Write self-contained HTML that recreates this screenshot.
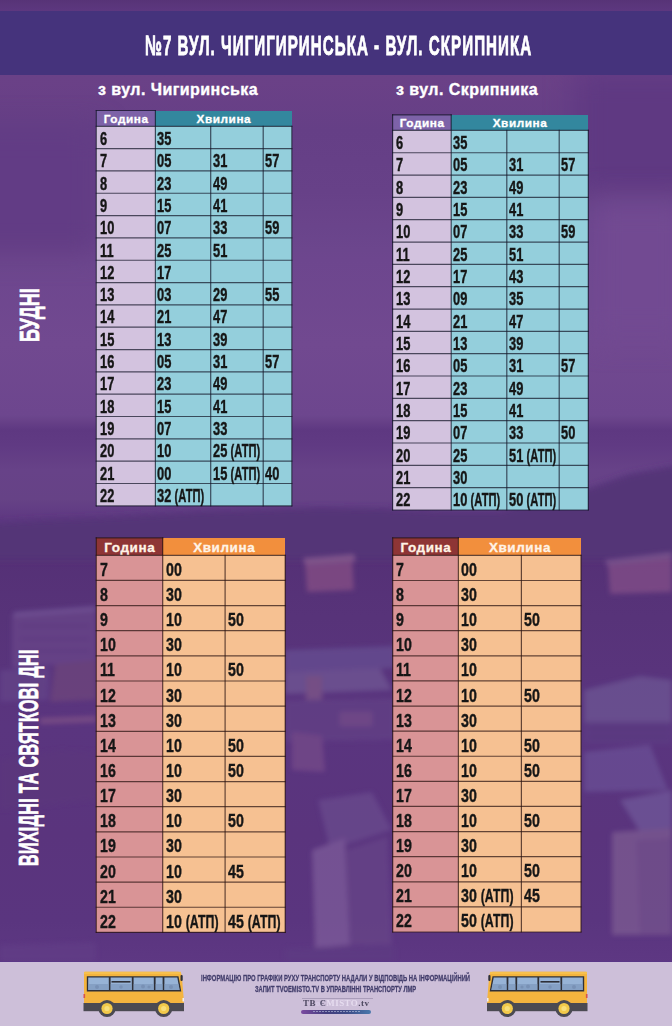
<!DOCTYPE html>
<html><head><meta charset="utf-8"><style>
html,body{margin:0;padding:0}
body{width:672px;height:1026px;overflow:hidden;position:relative;font-family:"Liberation Sans", sans-serif;
background:#5a3686}
.b{position:absolute;filter:blur(var(--bl,6px))}
.ht{position:absolute;width:80px;text-align:center;color:#fff;font-weight:bold;white-space:nowrap;-webkit-text-stroke:0.3px currentColor}
.d{position:absolute;white-space:nowrap;color:#161616;-webkit-text-stroke:0.4px #161616;font-weight:bold;font-size:17.6px;transform:scaleX(0.73);transform-origin:0 0}
.ft{position:absolute;white-space:nowrap;color:#433e6c;font-weight:bold;font-size:9.4px;line-height:12px;-webkit-text-stroke:0.3px #433e6c;transform-origin:0 0}
.atp{display:inline-block;transform:scaleX(0.87);transform-origin:0 0;margin-left:-0.5px}
.tt{position:absolute;white-space:nowrap;color:#fff;font-weight:bold;transform-origin:0 0}
</style></head><body>
<div class="b" style="left:0px;top:0px;width:672px;height:520px;background:linear-gradient(180deg,#52307a 0%,#5a3683 2.3%,#673f8b 14.4%,#613d8a 25.2%,#633f8c 36.9%,#6a4592 50%,#6e4894 66.2%,#6a4592 79.8%,#5a3684 82.7%,#5c3886 85.6%,#63408c 90.4%,#62408a 96%,#5a3684 100%);filter:none"></div>
<div class="b" style="left:575px;top:70px;width:130px;height:125px;background:#5b3785;--bl:14px"></div>
<div class="b" style="left:-40px;top:128px;width:140px;height:125px;background:#5e3a88;--bl:14px"></div>
<div class="b" style="left:590px;top:200px;width:100px;height:140px;background:#6f4996;--bl:14px"></div>
<div class="b" style="left:0px;top:530px;width:672px;height:435px;background:linear-gradient(180deg,#4f2c78 0%,#52307c 20%,#563282 45%,#553180 70%,#563282 90%,#5a3686 100%);filter:none"></div>
<svg style="position:absolute;left:0;top:0" width="672" height="1026"><defs><filter id="hb" x="-10%" y="-10%" width="120%" height="120%"><feGaussianBlur stdDeviation="3"/></filter></defs><path d="M-20 524 L40 520 L96 518 L200 512 L260 510 L320 508 L380 509 L440 512 L500 512 L540 500 L590 488 L630 474 L672 466 L700 466 L700 560 L-20 560Z" fill="#50307a" filter="url(#hb)"/></svg>
<svg style="position:absolute;left:0;top:0" width="672" height="1026"><defs><filter id="cb" x="-20%" y="-20%" width="140%" height="140%"><feGaussianBlur stdDeviation="2.6"/></filter></defs><g filter="url(#cb)" opacity="0.6">
<path d="M12 614 L96 608 L96 662 L12 668Z" fill="#6a4a92"/>
<path d="M14 612 L96 606 L96 611 L14 617Z" fill="#7a62a6"/>
<g fill="#58387f" opacity="0.8"><rect x="20" y="625" width="70" height="2"/><rect x="20" y="638" width="70" height="2"/><rect x="20" y="650" width="70" height="2"/></g>
<path d="M55 664 L96 660 L96 700 L50 702Z" fill="#70487f"/>
<path d="M0 670 L50 668 L48 700 L0 702Z" fill="#644690"/>
<path d="M40 718 L96 716 L96 722 L40 724Z" fill="#8a5a8c"/>
<path d="M0 760 L60 750 L96 752 L96 800 L0 810Z" fill="#58347f"/>
<path d="M305 562 L352 557 L354 590 L307 592Z" fill="#92568c"/>
<path d="M303 558 L354 554 L356 561 L305 565Z" fill="#9a6a9c"/>
<path d="M285 650 L395 646 L395 668 L285 672Z" fill="#66549c"/>
<path d="M285 672 L380 668 L392 690 L285 694Z" fill="#72609f"/>
<path d="M306 676 L322 676 L322 700 L306 700Z" fill="#86608e"/>
<path d="M285 700 L395 698 L395 740 L285 742Z" fill="#60428a"/>
<path d="M340 712 L372 712 L372 726 L340 726Z" fill="#7a5290"/>
<path d="M292 732 L322 736 L325 772 L292 770Z" fill="#7a5090"/>
<path d="M318 800 L372 792 L392 830 L330 850Z" fill="#6a5096"/>
<path d="M312 850 L345 838 L350 945 L315 948Z" fill="#8466a6"/>
<path d="M345 850 L388 836 L392 945 L350 945Z" fill="#66468e"/>
<path d="M608 564 L672 556 L672 592 L610 594Z" fill="#8e5690"/>
<path d="M605 560 L672 552 L672 558 L607 566Z" fill="#8a649c"/>
<path d="M584 690 L640 676 L672 680 L672 722 L584 722Z" fill="#6e5e9e"/>
<path d="M584 722 L672 722 L672 744 L584 744Z" fill="#5a3c88"/>
<g fill="#4e2e7a" opacity="0.8"><rect x="590" y="728" width="78" height="2"/><rect x="590" y="736" width="78" height="2"/></g>
<path d="M584 752 L650 745 L668 790 L584 792Z" fill="#6a56a0"/>
<path d="M620 800 L672 790 L672 830 L640 832Z" fill="#7262a6"/>
<path d="M612 832 L672 828 L672 935 L612 935Z" fill="#84669c"/>
<path d="M636 840 L672 838 L672 935 L640 935Z" fill="#7a5c96"/>
<path d="M0 945 L96 942 L96 961 L0 961Z" fill="#5e3e8a"/>
<path d="M285 948 L395 946 L395 961 L285 961Z" fill="#5a3a86"/>
</g></svg>
<div style="position:absolute;left:0;top:0;width:672px;height:961px;background:rgba(170,110,90,0.06)"></div>
<div style="position:absolute;left:0;top:11px;width:672px;height:63.5px;background:#45337c"></div>
<div class="tt" style="left:145px;top:25.8px;font-size:28.2px;line-height:38px;letter-spacing:1.9px;-webkit-text-stroke:0.9px #fff;transform:scaleX(0.538)">№7 ВУЛ. ЧИГИГИРИНСЬКА - ВУЛ. СКРИПНИКА</div>
<div class="tt" style="left:98px;top:80px;font-size:16px;line-height:20px;letter-spacing:0.45px;-webkit-text-stroke:0.35px #fff">з вул. Чигиринська</div>
<div class="tt" style="left:396px;top:80px;font-size:16px;line-height:20px;letter-spacing:0.45px;-webkit-text-stroke:0.35px #fff">з вул. Скрипника</div>
<div class="tt" style="left:18.6px;top:342px;font-size:28px;line-height:21px;-webkit-text-stroke:0.7px #fff;transform:rotate(-90deg) scaleX(0.645)">БУДНІ</div>
<div class="tt" style="left:18.3px;top:866px;font-size:27.5px;line-height:21px;letter-spacing:0.5px;-webkit-text-stroke:0.7px #fff;transform:rotate(-90deg) scaleX(0.585)">ВИХІДНІ ТА СВЯТКОВІ ДНІ</div>
<div style="position:absolute;left:96.3px;top:110.5px;width:59.10000000000001px;height:15.799999999999997px;background:#7d62a8"></div>
<div style="position:absolute;left:155.4px;top:110.5px;width:136.4px;height:15.799999999999997px;background:#33879e"></div>
<div style="position:absolute;left:96.3px;top:126.3px;width:59.10000000000001px;height:379.5px;background:#d3c3df"></div>
<div style="position:absolute;left:155.4px;top:126.3px;width:136.4px;height:379.5px;background:#94cfdc"></div>
<div class="ht" style="left:85.85px;top:111.7px;height:15.799999999999997px;line-height:15.799999999999997px;font-size:11.8px;letter-spacing:0.55px;text-indent:0.55px;color:#fff">Година</div>
<div class="ht" style="left:183.60000000000002px;top:111.7px;height:15.799999999999997px;line-height:15.799999999999997px;font-size:11.8px;letter-spacing:0.55px;text-indent:0.55px;color:#fff">Хвилина</div>
<svg style="position:absolute;left:0;top:0" width="672" height="1026"><g stroke="#15182a" stroke-width="1.2" stroke-opacity="0.72" stroke-linecap="square"><line x1="96.3" y1="110.5" x2="96.3" y2="505.8"/><line x1="96.3" y1="110.5" x2="155.4" y2="110.5"/><line x1="291.8" y1="126.3" x2="291.8" y2="505.8"/><line x1="155.4" y1="110.5" x2="155.4" y2="505.8"/><line x1="210.7" y1="126.3" x2="210.7" y2="505.8"/><line x1="263.2" y1="126.3" x2="263.2" y2="505.8"/><line x1="96.3" y1="126.30" x2="291.8" y2="126.30"/><line x1="96.3" y1="148.62" x2="291.8" y2="148.62"/><line x1="96.3" y1="170.95" x2="291.8" y2="170.95"/><line x1="96.3" y1="193.27" x2="291.8" y2="193.27"/><line x1="96.3" y1="215.59" x2="291.8" y2="215.59"/><line x1="96.3" y1="237.92" x2="291.8" y2="237.92"/><line x1="96.3" y1="260.24" x2="291.8" y2="260.24"/><line x1="96.3" y1="282.56" x2="291.8" y2="282.56"/><line x1="96.3" y1="304.89" x2="291.8" y2="304.89"/><line x1="96.3" y1="327.21" x2="291.8" y2="327.21"/><line x1="96.3" y1="349.54" x2="291.8" y2="349.54"/><line x1="96.3" y1="371.86" x2="291.8" y2="371.86"/><line x1="96.3" y1="394.18" x2="291.8" y2="394.18"/><line x1="96.3" y1="416.51" x2="291.8" y2="416.51"/><line x1="96.3" y1="438.83" x2="291.8" y2="438.83"/><line x1="96.3" y1="461.15" x2="291.8" y2="461.15"/><line x1="96.3" y1="483.48" x2="291.8" y2="483.48"/><line x1="96.3" y1="505.80" x2="291.8" y2="505.80"/></g></svg>
<div class="d" style="left:99.7px;top:127.90px;height:22.32px;line-height:22.32px;font-size:17.6px;transform:scaleX(0.73)">6</div>
<div class="d" style="left:157.20000000000002px;top:127.90px;height:22.32px;line-height:22.32px;font-size:17.6px;transform:scaleX(0.73)">35</div>
<div class="d" style="left:99.7px;top:150.22px;height:22.32px;line-height:22.32px;font-size:17.6px;transform:scaleX(0.73)">7</div>
<div class="d" style="left:157.20000000000002px;top:150.22px;height:22.32px;line-height:22.32px;font-size:17.6px;transform:scaleX(0.73)">05</div>
<div class="d" style="left:212.5px;top:150.22px;height:22.32px;line-height:22.32px;font-size:17.6px;transform:scaleX(0.73)">31</div>
<div class="d" style="left:265.0px;top:150.22px;height:22.32px;line-height:22.32px;font-size:17.6px;transform:scaleX(0.73)">57</div>
<div class="d" style="left:99.7px;top:172.55px;height:22.32px;line-height:22.32px;font-size:17.6px;transform:scaleX(0.73)">8</div>
<div class="d" style="left:157.20000000000002px;top:172.55px;height:22.32px;line-height:22.32px;font-size:17.6px;transform:scaleX(0.73)">23</div>
<div class="d" style="left:212.5px;top:172.55px;height:22.32px;line-height:22.32px;font-size:17.6px;transform:scaleX(0.73)">49</div>
<div class="d" style="left:99.7px;top:194.87px;height:22.32px;line-height:22.32px;font-size:17.6px;transform:scaleX(0.73)">9</div>
<div class="d" style="left:157.20000000000002px;top:194.87px;height:22.32px;line-height:22.32px;font-size:17.6px;transform:scaleX(0.73)">15</div>
<div class="d" style="left:212.5px;top:194.87px;height:22.32px;line-height:22.32px;font-size:17.6px;transform:scaleX(0.73)">41</div>
<div class="d" style="left:99.7px;top:217.19px;height:22.32px;line-height:22.32px;font-size:17.6px;transform:scaleX(0.73)">10</div>
<div class="d" style="left:157.20000000000002px;top:217.19px;height:22.32px;line-height:22.32px;font-size:17.6px;transform:scaleX(0.73)">07</div>
<div class="d" style="left:212.5px;top:217.19px;height:22.32px;line-height:22.32px;font-size:17.6px;transform:scaleX(0.73)">33</div>
<div class="d" style="left:265.0px;top:217.19px;height:22.32px;line-height:22.32px;font-size:17.6px;transform:scaleX(0.73)">59</div>
<div class="d" style="left:99.7px;top:239.52px;height:22.32px;line-height:22.32px;font-size:17.6px;transform:scaleX(0.73)">11</div>
<div class="d" style="left:157.20000000000002px;top:239.52px;height:22.32px;line-height:22.32px;font-size:17.6px;transform:scaleX(0.73)">25</div>
<div class="d" style="left:212.5px;top:239.52px;height:22.32px;line-height:22.32px;font-size:17.6px;transform:scaleX(0.73)">51</div>
<div class="d" style="left:99.7px;top:261.84px;height:22.32px;line-height:22.32px;font-size:17.6px;transform:scaleX(0.73)">12</div>
<div class="d" style="left:157.20000000000002px;top:261.84px;height:22.32px;line-height:22.32px;font-size:17.6px;transform:scaleX(0.73)">17</div>
<div class="d" style="left:99.7px;top:284.16px;height:22.32px;line-height:22.32px;font-size:17.6px;transform:scaleX(0.73)">13</div>
<div class="d" style="left:157.20000000000002px;top:284.16px;height:22.32px;line-height:22.32px;font-size:17.6px;transform:scaleX(0.73)">03</div>
<div class="d" style="left:212.5px;top:284.16px;height:22.32px;line-height:22.32px;font-size:17.6px;transform:scaleX(0.73)">29</div>
<div class="d" style="left:265.0px;top:284.16px;height:22.32px;line-height:22.32px;font-size:17.6px;transform:scaleX(0.73)">55</div>
<div class="d" style="left:99.7px;top:306.49px;height:22.32px;line-height:22.32px;font-size:17.6px;transform:scaleX(0.73)">14</div>
<div class="d" style="left:157.20000000000002px;top:306.49px;height:22.32px;line-height:22.32px;font-size:17.6px;transform:scaleX(0.73)">21</div>
<div class="d" style="left:212.5px;top:306.49px;height:22.32px;line-height:22.32px;font-size:17.6px;transform:scaleX(0.73)">47</div>
<div class="d" style="left:99.7px;top:328.81px;height:22.32px;line-height:22.32px;font-size:17.6px;transform:scaleX(0.73)">15</div>
<div class="d" style="left:157.20000000000002px;top:328.81px;height:22.32px;line-height:22.32px;font-size:17.6px;transform:scaleX(0.73)">13</div>
<div class="d" style="left:212.5px;top:328.81px;height:22.32px;line-height:22.32px;font-size:17.6px;transform:scaleX(0.73)">39</div>
<div class="d" style="left:99.7px;top:351.14px;height:22.32px;line-height:22.32px;font-size:17.6px;transform:scaleX(0.73)">16</div>
<div class="d" style="left:157.20000000000002px;top:351.14px;height:22.32px;line-height:22.32px;font-size:17.6px;transform:scaleX(0.73)">05</div>
<div class="d" style="left:212.5px;top:351.14px;height:22.32px;line-height:22.32px;font-size:17.6px;transform:scaleX(0.73)">31</div>
<div class="d" style="left:265.0px;top:351.14px;height:22.32px;line-height:22.32px;font-size:17.6px;transform:scaleX(0.73)">57</div>
<div class="d" style="left:99.7px;top:373.46px;height:22.32px;line-height:22.32px;font-size:17.6px;transform:scaleX(0.73)">17</div>
<div class="d" style="left:157.20000000000002px;top:373.46px;height:22.32px;line-height:22.32px;font-size:17.6px;transform:scaleX(0.73)">23</div>
<div class="d" style="left:212.5px;top:373.46px;height:22.32px;line-height:22.32px;font-size:17.6px;transform:scaleX(0.73)">49</div>
<div class="d" style="left:99.7px;top:395.78px;height:22.32px;line-height:22.32px;font-size:17.6px;transform:scaleX(0.73)">18</div>
<div class="d" style="left:157.20000000000002px;top:395.78px;height:22.32px;line-height:22.32px;font-size:17.6px;transform:scaleX(0.73)">15</div>
<div class="d" style="left:212.5px;top:395.78px;height:22.32px;line-height:22.32px;font-size:17.6px;transform:scaleX(0.73)">41</div>
<div class="d" style="left:99.7px;top:418.11px;height:22.32px;line-height:22.32px;font-size:17.6px;transform:scaleX(0.73)">19</div>
<div class="d" style="left:157.20000000000002px;top:418.11px;height:22.32px;line-height:22.32px;font-size:17.6px;transform:scaleX(0.73)">07</div>
<div class="d" style="left:212.5px;top:418.11px;height:22.32px;line-height:22.32px;font-size:17.6px;transform:scaleX(0.73)">33</div>
<div class="d" style="left:99.7px;top:440.43px;height:22.32px;line-height:22.32px;font-size:17.6px;transform:scaleX(0.73)">20</div>
<div class="d" style="left:157.20000000000002px;top:440.43px;height:22.32px;line-height:22.32px;font-size:17.6px;transform:scaleX(0.73)">10</div>
<div class="d" style="left:212.5px;top:440.43px;height:22.32px;line-height:22.32px;font-size:17.6px;transform:scaleX(0.73)">25 <span class="atp">(АТП)</span></div>
<div class="d" style="left:99.7px;top:462.75px;height:22.32px;line-height:22.32px;font-size:17.6px;transform:scaleX(0.73)">21</div>
<div class="d" style="left:157.20000000000002px;top:462.75px;height:22.32px;line-height:22.32px;font-size:17.6px;transform:scaleX(0.73)">00</div>
<div class="d" style="left:212.5px;top:462.75px;height:22.32px;line-height:22.32px;font-size:17.6px;transform:scaleX(0.73)">15 <span class="atp">(АТП)</span></div>
<div class="d" style="left:265.0px;top:462.75px;height:22.32px;line-height:22.32px;font-size:17.6px;transform:scaleX(0.73)">40</div>
<div class="d" style="left:99.7px;top:485.08px;height:22.32px;line-height:22.32px;font-size:17.6px;transform:scaleX(0.73)">22</div>
<div class="d" style="left:157.20000000000002px;top:485.08px;height:22.32px;line-height:22.32px;font-size:17.6px;transform:scaleX(0.73)">32 <span class="atp">(АТП)</span></div>
<div style="position:absolute;left:392.6px;top:114.8px;width:58.599999999999966px;height:15.600000000000009px;background:#7d62a8"></div>
<div style="position:absolute;left:451.2px;top:114.8px;width:137.09999999999997px;height:15.600000000000009px;background:#33879e"></div>
<div style="position:absolute;left:392.6px;top:130.4px;width:58.599999999999966px;height:379.6px;background:#d3c3df"></div>
<div style="position:absolute;left:451.2px;top:130.4px;width:137.09999999999997px;height:379.6px;background:#94cfdc"></div>
<div class="ht" style="left:381.9px;top:116.0px;height:15.600000000000009px;line-height:15.600000000000009px;font-size:11.8px;letter-spacing:0.55px;text-indent:0.55px;color:#fff">Година</div>
<div class="ht" style="left:479.75px;top:116.0px;height:15.600000000000009px;line-height:15.600000000000009px;font-size:11.8px;letter-spacing:0.55px;text-indent:0.55px;color:#fff">Хвилина</div>
<svg style="position:absolute;left:0;top:0" width="672" height="1026"><g stroke="#15182a" stroke-width="1.2" stroke-opacity="0.72" stroke-linecap="square"><line x1="392.6" y1="114.8" x2="392.6" y2="510.0"/><line x1="392.6" y1="114.8" x2="451.2" y2="114.8"/><line x1="588.3" y1="130.4" x2="588.3" y2="510.0"/><line x1="451.2" y1="114.8" x2="451.2" y2="510.0"/><line x1="506.8" y1="130.4" x2="506.8" y2="510.0"/><line x1="559.2" y1="130.4" x2="559.2" y2="510.0"/><line x1="392.6" y1="130.40" x2="588.3" y2="130.40"/><line x1="392.6" y1="152.73" x2="588.3" y2="152.73"/><line x1="392.6" y1="175.06" x2="588.3" y2="175.06"/><line x1="392.6" y1="197.39" x2="588.3" y2="197.39"/><line x1="392.6" y1="219.72" x2="588.3" y2="219.72"/><line x1="392.6" y1="242.05" x2="588.3" y2="242.05"/><line x1="392.6" y1="264.38" x2="588.3" y2="264.38"/><line x1="392.6" y1="286.71" x2="588.3" y2="286.71"/><line x1="392.6" y1="309.04" x2="588.3" y2="309.04"/><line x1="392.6" y1="331.36" x2="588.3" y2="331.36"/><line x1="392.6" y1="353.69" x2="588.3" y2="353.69"/><line x1="392.6" y1="376.02" x2="588.3" y2="376.02"/><line x1="392.6" y1="398.35" x2="588.3" y2="398.35"/><line x1="392.6" y1="420.68" x2="588.3" y2="420.68"/><line x1="392.6" y1="443.01" x2="588.3" y2="443.01"/><line x1="392.6" y1="465.34" x2="588.3" y2="465.34"/><line x1="392.6" y1="487.67" x2="588.3" y2="487.67"/><line x1="392.6" y1="510.00" x2="588.3" y2="510.00"/></g></svg>
<div class="d" style="left:396.0px;top:132.00px;height:22.33px;line-height:22.33px;font-size:17.6px;transform:scaleX(0.73)">6</div>
<div class="d" style="left:453.0px;top:132.00px;height:22.33px;line-height:22.33px;font-size:17.6px;transform:scaleX(0.73)">35</div>
<div class="d" style="left:396.0px;top:154.33px;height:22.33px;line-height:22.33px;font-size:17.6px;transform:scaleX(0.73)">7</div>
<div class="d" style="left:453.0px;top:154.33px;height:22.33px;line-height:22.33px;font-size:17.6px;transform:scaleX(0.73)">05</div>
<div class="d" style="left:508.6px;top:154.33px;height:22.33px;line-height:22.33px;font-size:17.6px;transform:scaleX(0.73)">31</div>
<div class="d" style="left:561.0px;top:154.33px;height:22.33px;line-height:22.33px;font-size:17.6px;transform:scaleX(0.73)">57</div>
<div class="d" style="left:396.0px;top:176.66px;height:22.33px;line-height:22.33px;font-size:17.6px;transform:scaleX(0.73)">8</div>
<div class="d" style="left:453.0px;top:176.66px;height:22.33px;line-height:22.33px;font-size:17.6px;transform:scaleX(0.73)">23</div>
<div class="d" style="left:508.6px;top:176.66px;height:22.33px;line-height:22.33px;font-size:17.6px;transform:scaleX(0.73)">49</div>
<div class="d" style="left:396.0px;top:198.99px;height:22.33px;line-height:22.33px;font-size:17.6px;transform:scaleX(0.73)">9</div>
<div class="d" style="left:453.0px;top:198.99px;height:22.33px;line-height:22.33px;font-size:17.6px;transform:scaleX(0.73)">15</div>
<div class="d" style="left:508.6px;top:198.99px;height:22.33px;line-height:22.33px;font-size:17.6px;transform:scaleX(0.73)">41</div>
<div class="d" style="left:396.0px;top:221.32px;height:22.33px;line-height:22.33px;font-size:17.6px;transform:scaleX(0.73)">10</div>
<div class="d" style="left:453.0px;top:221.32px;height:22.33px;line-height:22.33px;font-size:17.6px;transform:scaleX(0.73)">07</div>
<div class="d" style="left:508.6px;top:221.32px;height:22.33px;line-height:22.33px;font-size:17.6px;transform:scaleX(0.73)">33</div>
<div class="d" style="left:561.0px;top:221.32px;height:22.33px;line-height:22.33px;font-size:17.6px;transform:scaleX(0.73)">59</div>
<div class="d" style="left:396.0px;top:243.65px;height:22.33px;line-height:22.33px;font-size:17.6px;transform:scaleX(0.73)">11</div>
<div class="d" style="left:453.0px;top:243.65px;height:22.33px;line-height:22.33px;font-size:17.6px;transform:scaleX(0.73)">25</div>
<div class="d" style="left:508.6px;top:243.65px;height:22.33px;line-height:22.33px;font-size:17.6px;transform:scaleX(0.73)">51</div>
<div class="d" style="left:396.0px;top:265.98px;height:22.33px;line-height:22.33px;font-size:17.6px;transform:scaleX(0.73)">12</div>
<div class="d" style="left:453.0px;top:265.98px;height:22.33px;line-height:22.33px;font-size:17.6px;transform:scaleX(0.73)">17</div>
<div class="d" style="left:508.6px;top:265.98px;height:22.33px;line-height:22.33px;font-size:17.6px;transform:scaleX(0.73)">43</div>
<div class="d" style="left:396.0px;top:288.31px;height:22.33px;line-height:22.33px;font-size:17.6px;transform:scaleX(0.73)">13</div>
<div class="d" style="left:453.0px;top:288.31px;height:22.33px;line-height:22.33px;font-size:17.6px;transform:scaleX(0.73)">09</div>
<div class="d" style="left:508.6px;top:288.31px;height:22.33px;line-height:22.33px;font-size:17.6px;transform:scaleX(0.73)">35</div>
<div class="d" style="left:396.0px;top:310.64px;height:22.33px;line-height:22.33px;font-size:17.6px;transform:scaleX(0.73)">14</div>
<div class="d" style="left:453.0px;top:310.64px;height:22.33px;line-height:22.33px;font-size:17.6px;transform:scaleX(0.73)">21</div>
<div class="d" style="left:508.6px;top:310.64px;height:22.33px;line-height:22.33px;font-size:17.6px;transform:scaleX(0.73)">47</div>
<div class="d" style="left:396.0px;top:332.96px;height:22.33px;line-height:22.33px;font-size:17.6px;transform:scaleX(0.73)">15</div>
<div class="d" style="left:453.0px;top:332.96px;height:22.33px;line-height:22.33px;font-size:17.6px;transform:scaleX(0.73)">13</div>
<div class="d" style="left:508.6px;top:332.96px;height:22.33px;line-height:22.33px;font-size:17.6px;transform:scaleX(0.73)">39</div>
<div class="d" style="left:396.0px;top:355.29px;height:22.33px;line-height:22.33px;font-size:17.6px;transform:scaleX(0.73)">16</div>
<div class="d" style="left:453.0px;top:355.29px;height:22.33px;line-height:22.33px;font-size:17.6px;transform:scaleX(0.73)">05</div>
<div class="d" style="left:508.6px;top:355.29px;height:22.33px;line-height:22.33px;font-size:17.6px;transform:scaleX(0.73)">31</div>
<div class="d" style="left:561.0px;top:355.29px;height:22.33px;line-height:22.33px;font-size:17.6px;transform:scaleX(0.73)">57</div>
<div class="d" style="left:396.0px;top:377.62px;height:22.33px;line-height:22.33px;font-size:17.6px;transform:scaleX(0.73)">17</div>
<div class="d" style="left:453.0px;top:377.62px;height:22.33px;line-height:22.33px;font-size:17.6px;transform:scaleX(0.73)">23</div>
<div class="d" style="left:508.6px;top:377.62px;height:22.33px;line-height:22.33px;font-size:17.6px;transform:scaleX(0.73)">49</div>
<div class="d" style="left:396.0px;top:399.95px;height:22.33px;line-height:22.33px;font-size:17.6px;transform:scaleX(0.73)">18</div>
<div class="d" style="left:453.0px;top:399.95px;height:22.33px;line-height:22.33px;font-size:17.6px;transform:scaleX(0.73)">15</div>
<div class="d" style="left:508.6px;top:399.95px;height:22.33px;line-height:22.33px;font-size:17.6px;transform:scaleX(0.73)">41</div>
<div class="d" style="left:396.0px;top:422.28px;height:22.33px;line-height:22.33px;font-size:17.6px;transform:scaleX(0.73)">19</div>
<div class="d" style="left:453.0px;top:422.28px;height:22.33px;line-height:22.33px;font-size:17.6px;transform:scaleX(0.73)">07</div>
<div class="d" style="left:508.6px;top:422.28px;height:22.33px;line-height:22.33px;font-size:17.6px;transform:scaleX(0.73)">33</div>
<div class="d" style="left:561.0px;top:422.28px;height:22.33px;line-height:22.33px;font-size:17.6px;transform:scaleX(0.73)">50</div>
<div class="d" style="left:396.0px;top:444.61px;height:22.33px;line-height:22.33px;font-size:17.6px;transform:scaleX(0.73)">20</div>
<div class="d" style="left:453.0px;top:444.61px;height:22.33px;line-height:22.33px;font-size:17.6px;transform:scaleX(0.73)">25</div>
<div class="d" style="left:508.6px;top:444.61px;height:22.33px;line-height:22.33px;font-size:17.6px;transform:scaleX(0.73)">51 <span class="atp">(АТП)</span></div>
<div class="d" style="left:396.0px;top:466.94px;height:22.33px;line-height:22.33px;font-size:17.6px;transform:scaleX(0.73)">21</div>
<div class="d" style="left:453.0px;top:466.94px;height:22.33px;line-height:22.33px;font-size:17.6px;transform:scaleX(0.73)">30</div>
<div class="d" style="left:396.0px;top:489.27px;height:22.33px;line-height:22.33px;font-size:17.6px;transform:scaleX(0.73)">22</div>
<div class="d" style="left:453.0px;top:489.27px;height:22.33px;line-height:22.33px;font-size:17.6px;transform:scaleX(0.73)">10 <span class="atp">(АТП)</span></div>
<div class="d" style="left:508.6px;top:489.27px;height:22.33px;line-height:22.33px;font-size:17.6px;transform:scaleX(0.73)">50 <span class="atp">(АТП)</span></div>
<div style="position:absolute;left:96.3px;top:537.8px;width:66.39999999999999px;height:17.5px;background:#8e3535"></div>
<div style="position:absolute;left:162.7px;top:537.8px;width:122.5px;height:17.5px;background:#f28f3d"></div>
<div style="position:absolute;left:96.3px;top:555.3px;width:66.39999999999999px;height:377.1px;background:#d99496"></div>
<div style="position:absolute;left:162.7px;top:555.3px;width:122.5px;height:377.1px;background:#f6c192"></div>
<div class="ht" style="left:89.5px;top:539.0px;height:17.5px;line-height:17.5px;font-size:13.5px;letter-spacing:0.55px;text-indent:0.55px;color:#fff3e6">Година</div>
<div class="ht" style="left:183.95px;top:539.0px;height:17.5px;line-height:17.5px;font-size:13.5px;letter-spacing:0.55px;text-indent:0.55px;color:#fff3e6">Хвилина</div>
<svg style="position:absolute;left:0;top:0" width="672" height="1026"><g stroke="#2a1410" stroke-width="1.2" stroke-opacity="0.72" stroke-linecap="square"><line x1="96.3" y1="537.8" x2="96.3" y2="932.4"/><line x1="96.3" y1="537.8" x2="162.7" y2="537.8"/><line x1="285.2" y1="555.3" x2="285.2" y2="932.4"/><line x1="162.7" y1="537.8" x2="162.7" y2="932.4"/><line x1="225.1" y1="555.3" x2="225.1" y2="932.4"/><line x1="96.3" y1="555.30" x2="285.2" y2="555.30"/><line x1="96.3" y1="580.44" x2="285.2" y2="580.44"/><line x1="96.3" y1="605.58" x2="285.2" y2="605.58"/><line x1="96.3" y1="630.72" x2="285.2" y2="630.72"/><line x1="96.3" y1="655.86" x2="285.2" y2="655.86"/><line x1="96.3" y1="681.00" x2="285.2" y2="681.00"/><line x1="96.3" y1="706.14" x2="285.2" y2="706.14"/><line x1="96.3" y1="731.28" x2="285.2" y2="731.28"/><line x1="96.3" y1="756.42" x2="285.2" y2="756.42"/><line x1="96.3" y1="781.56" x2="285.2" y2="781.56"/><line x1="96.3" y1="806.70" x2="285.2" y2="806.70"/><line x1="96.3" y1="831.84" x2="285.2" y2="831.84"/><line x1="96.3" y1="856.98" x2="285.2" y2="856.98"/><line x1="96.3" y1="882.12" x2="285.2" y2="882.12"/><line x1="96.3" y1="907.26" x2="285.2" y2="907.26"/><line x1="96.3" y1="932.40" x2="285.2" y2="932.40"/></g></svg>
<div class="d" style="left:100.0px;top:556.90px;height:25.14px;line-height:25.14px;font-size:18.8px;transform:scaleX(0.755)">7</div>
<div class="d" style="left:165.6px;top:556.90px;height:25.14px;line-height:25.14px;font-size:18.8px;transform:scaleX(0.755)">00</div>
<div class="d" style="left:100.0px;top:582.04px;height:25.14px;line-height:25.14px;font-size:18.8px;transform:scaleX(0.755)">8</div>
<div class="d" style="left:165.6px;top:582.04px;height:25.14px;line-height:25.14px;font-size:18.8px;transform:scaleX(0.755)">30</div>
<div class="d" style="left:100.0px;top:607.18px;height:25.14px;line-height:25.14px;font-size:18.8px;transform:scaleX(0.755)">9</div>
<div class="d" style="left:165.6px;top:607.18px;height:25.14px;line-height:25.14px;font-size:18.8px;transform:scaleX(0.755)">10</div>
<div class="d" style="left:228.0px;top:607.18px;height:25.14px;line-height:25.14px;font-size:18.8px;transform:scaleX(0.755)">50</div>
<div class="d" style="left:100.0px;top:632.32px;height:25.14px;line-height:25.14px;font-size:18.8px;transform:scaleX(0.755)">10</div>
<div class="d" style="left:165.6px;top:632.32px;height:25.14px;line-height:25.14px;font-size:18.8px;transform:scaleX(0.755)">30</div>
<div class="d" style="left:100.0px;top:657.46px;height:25.14px;line-height:25.14px;font-size:18.8px;transform:scaleX(0.755)">11</div>
<div class="d" style="left:165.6px;top:657.46px;height:25.14px;line-height:25.14px;font-size:18.8px;transform:scaleX(0.755)">10</div>
<div class="d" style="left:228.0px;top:657.46px;height:25.14px;line-height:25.14px;font-size:18.8px;transform:scaleX(0.755)">50</div>
<div class="d" style="left:100.0px;top:682.60px;height:25.14px;line-height:25.14px;font-size:18.8px;transform:scaleX(0.755)">12</div>
<div class="d" style="left:165.6px;top:682.60px;height:25.14px;line-height:25.14px;font-size:18.8px;transform:scaleX(0.755)">30</div>
<div class="d" style="left:100.0px;top:707.74px;height:25.14px;line-height:25.14px;font-size:18.8px;transform:scaleX(0.755)">13</div>
<div class="d" style="left:165.6px;top:707.74px;height:25.14px;line-height:25.14px;font-size:18.8px;transform:scaleX(0.755)">30</div>
<div class="d" style="left:100.0px;top:732.88px;height:25.14px;line-height:25.14px;font-size:18.8px;transform:scaleX(0.755)">14</div>
<div class="d" style="left:165.6px;top:732.88px;height:25.14px;line-height:25.14px;font-size:18.8px;transform:scaleX(0.755)">10</div>
<div class="d" style="left:228.0px;top:732.88px;height:25.14px;line-height:25.14px;font-size:18.8px;transform:scaleX(0.755)">50</div>
<div class="d" style="left:100.0px;top:758.02px;height:25.14px;line-height:25.14px;font-size:18.8px;transform:scaleX(0.755)">16</div>
<div class="d" style="left:165.6px;top:758.02px;height:25.14px;line-height:25.14px;font-size:18.8px;transform:scaleX(0.755)">10</div>
<div class="d" style="left:228.0px;top:758.02px;height:25.14px;line-height:25.14px;font-size:18.8px;transform:scaleX(0.755)">50</div>
<div class="d" style="left:100.0px;top:783.16px;height:25.14px;line-height:25.14px;font-size:18.8px;transform:scaleX(0.755)">17</div>
<div class="d" style="left:165.6px;top:783.16px;height:25.14px;line-height:25.14px;font-size:18.8px;transform:scaleX(0.755)">30</div>
<div class="d" style="left:100.0px;top:808.30px;height:25.14px;line-height:25.14px;font-size:18.8px;transform:scaleX(0.755)">18</div>
<div class="d" style="left:165.6px;top:808.30px;height:25.14px;line-height:25.14px;font-size:18.8px;transform:scaleX(0.755)">10</div>
<div class="d" style="left:228.0px;top:808.30px;height:25.14px;line-height:25.14px;font-size:18.8px;transform:scaleX(0.755)">50</div>
<div class="d" style="left:100.0px;top:833.44px;height:25.14px;line-height:25.14px;font-size:18.8px;transform:scaleX(0.755)">19</div>
<div class="d" style="left:165.6px;top:833.44px;height:25.14px;line-height:25.14px;font-size:18.8px;transform:scaleX(0.755)">30</div>
<div class="d" style="left:100.0px;top:858.58px;height:25.14px;line-height:25.14px;font-size:18.8px;transform:scaleX(0.755)">20</div>
<div class="d" style="left:165.6px;top:858.58px;height:25.14px;line-height:25.14px;font-size:18.8px;transform:scaleX(0.755)">10</div>
<div class="d" style="left:228.0px;top:858.58px;height:25.14px;line-height:25.14px;font-size:18.8px;transform:scaleX(0.755)">45</div>
<div class="d" style="left:100.0px;top:883.72px;height:25.14px;line-height:25.14px;font-size:18.8px;transform:scaleX(0.755)">21</div>
<div class="d" style="left:165.6px;top:883.72px;height:25.14px;line-height:25.14px;font-size:18.8px;transform:scaleX(0.755)">30</div>
<div class="d" style="left:100.0px;top:908.86px;height:25.14px;line-height:25.14px;font-size:18.8px;transform:scaleX(0.755)">22</div>
<div class="d" style="left:165.6px;top:908.86px;height:25.14px;line-height:25.14px;font-size:18.8px;transform:scaleX(0.755)">10 <span class="atp">(АТП)</span></div>
<div class="d" style="left:228.0px;top:908.86px;height:25.14px;line-height:25.14px;font-size:18.8px;transform:scaleX(0.755)">45 <span class="atp">(АТП)</span></div>
<div style="position:absolute;left:392.7px;top:537.8px;width:65.69999999999999px;height:17.600000000000023px;background:#8e3535"></div>
<div style="position:absolute;left:458.4px;top:537.8px;width:122.60000000000002px;height:17.600000000000023px;background:#f28f3d"></div>
<div style="position:absolute;left:392.7px;top:555.4px;width:65.69999999999999px;height:376.6px;background:#d99496"></div>
<div style="position:absolute;left:458.4px;top:555.4px;width:122.60000000000002px;height:376.6px;background:#f6c192"></div>
<div class="ht" style="left:385.54999999999995px;top:539.0px;height:17.600000000000023px;line-height:17.600000000000023px;font-size:13.5px;letter-spacing:0.55px;text-indent:0.55px;color:#fff3e6">Година</div>
<div class="ht" style="left:479.70000000000005px;top:539.0px;height:17.600000000000023px;line-height:17.600000000000023px;font-size:13.5px;letter-spacing:0.55px;text-indent:0.55px;color:#fff3e6">Хвилина</div>
<svg style="position:absolute;left:0;top:0" width="672" height="1026"><g stroke="#2a1410" stroke-width="1.2" stroke-opacity="0.72" stroke-linecap="square"><line x1="392.7" y1="537.8" x2="392.7" y2="932.0"/><line x1="392.7" y1="537.8" x2="458.4" y2="537.8"/><line x1="581.0" y1="555.4" x2="581.0" y2="932.0"/><line x1="458.4" y1="537.8" x2="458.4" y2="932.0"/><line x1="521.4" y1="555.4" x2="521.4" y2="932.0"/><line x1="392.7" y1="555.40" x2="581.0" y2="555.40"/><line x1="392.7" y1="580.51" x2="581.0" y2="580.51"/><line x1="392.7" y1="605.61" x2="581.0" y2="605.61"/><line x1="392.7" y1="630.72" x2="581.0" y2="630.72"/><line x1="392.7" y1="655.83" x2="581.0" y2="655.83"/><line x1="392.7" y1="680.93" x2="581.0" y2="680.93"/><line x1="392.7" y1="706.04" x2="581.0" y2="706.04"/><line x1="392.7" y1="731.15" x2="581.0" y2="731.15"/><line x1="392.7" y1="756.25" x2="581.0" y2="756.25"/><line x1="392.7" y1="781.36" x2="581.0" y2="781.36"/><line x1="392.7" y1="806.47" x2="581.0" y2="806.47"/><line x1="392.7" y1="831.57" x2="581.0" y2="831.57"/><line x1="392.7" y1="856.68" x2="581.0" y2="856.68"/><line x1="392.7" y1="881.79" x2="581.0" y2="881.79"/><line x1="392.7" y1="906.89" x2="581.0" y2="906.89"/><line x1="392.7" y1="932.00" x2="581.0" y2="932.00"/></g></svg>
<div class="d" style="left:396.4px;top:557.00px;height:25.11px;line-height:25.11px;font-size:18.8px;transform:scaleX(0.755)">7</div>
<div class="d" style="left:461.29999999999995px;top:557.00px;height:25.11px;line-height:25.11px;font-size:18.8px;transform:scaleX(0.755)">00</div>
<div class="d" style="left:396.4px;top:582.11px;height:25.11px;line-height:25.11px;font-size:18.8px;transform:scaleX(0.755)">8</div>
<div class="d" style="left:461.29999999999995px;top:582.11px;height:25.11px;line-height:25.11px;font-size:18.8px;transform:scaleX(0.755)">30</div>
<div class="d" style="left:396.4px;top:607.21px;height:25.11px;line-height:25.11px;font-size:18.8px;transform:scaleX(0.755)">9</div>
<div class="d" style="left:461.29999999999995px;top:607.21px;height:25.11px;line-height:25.11px;font-size:18.8px;transform:scaleX(0.755)">10</div>
<div class="d" style="left:524.3px;top:607.21px;height:25.11px;line-height:25.11px;font-size:18.8px;transform:scaleX(0.755)">50</div>
<div class="d" style="left:396.4px;top:632.32px;height:25.11px;line-height:25.11px;font-size:18.8px;transform:scaleX(0.755)">10</div>
<div class="d" style="left:461.29999999999995px;top:632.32px;height:25.11px;line-height:25.11px;font-size:18.8px;transform:scaleX(0.755)">30</div>
<div class="d" style="left:396.4px;top:657.43px;height:25.11px;line-height:25.11px;font-size:18.8px;transform:scaleX(0.755)">11</div>
<div class="d" style="left:461.29999999999995px;top:657.43px;height:25.11px;line-height:25.11px;font-size:18.8px;transform:scaleX(0.755)">10</div>
<div class="d" style="left:396.4px;top:682.53px;height:25.11px;line-height:25.11px;font-size:18.8px;transform:scaleX(0.755)">12</div>
<div class="d" style="left:461.29999999999995px;top:682.53px;height:25.11px;line-height:25.11px;font-size:18.8px;transform:scaleX(0.755)">10</div>
<div class="d" style="left:524.3px;top:682.53px;height:25.11px;line-height:25.11px;font-size:18.8px;transform:scaleX(0.755)">50</div>
<div class="d" style="left:396.4px;top:707.64px;height:25.11px;line-height:25.11px;font-size:18.8px;transform:scaleX(0.755)">13</div>
<div class="d" style="left:461.29999999999995px;top:707.64px;height:25.11px;line-height:25.11px;font-size:18.8px;transform:scaleX(0.755)">30</div>
<div class="d" style="left:396.4px;top:732.75px;height:25.11px;line-height:25.11px;font-size:18.8px;transform:scaleX(0.755)">14</div>
<div class="d" style="left:461.29999999999995px;top:732.75px;height:25.11px;line-height:25.11px;font-size:18.8px;transform:scaleX(0.755)">10</div>
<div class="d" style="left:524.3px;top:732.75px;height:25.11px;line-height:25.11px;font-size:18.8px;transform:scaleX(0.755)">50</div>
<div class="d" style="left:396.4px;top:757.85px;height:25.11px;line-height:25.11px;font-size:18.8px;transform:scaleX(0.755)">16</div>
<div class="d" style="left:461.29999999999995px;top:757.85px;height:25.11px;line-height:25.11px;font-size:18.8px;transform:scaleX(0.755)">10</div>
<div class="d" style="left:524.3px;top:757.85px;height:25.11px;line-height:25.11px;font-size:18.8px;transform:scaleX(0.755)">50</div>
<div class="d" style="left:396.4px;top:782.96px;height:25.11px;line-height:25.11px;font-size:18.8px;transform:scaleX(0.755)">17</div>
<div class="d" style="left:461.29999999999995px;top:782.96px;height:25.11px;line-height:25.11px;font-size:18.8px;transform:scaleX(0.755)">30</div>
<div class="d" style="left:396.4px;top:808.07px;height:25.11px;line-height:25.11px;font-size:18.8px;transform:scaleX(0.755)">18</div>
<div class="d" style="left:461.29999999999995px;top:808.07px;height:25.11px;line-height:25.11px;font-size:18.8px;transform:scaleX(0.755)">10</div>
<div class="d" style="left:524.3px;top:808.07px;height:25.11px;line-height:25.11px;font-size:18.8px;transform:scaleX(0.755)">50</div>
<div class="d" style="left:396.4px;top:833.17px;height:25.11px;line-height:25.11px;font-size:18.8px;transform:scaleX(0.755)">19</div>
<div class="d" style="left:461.29999999999995px;top:833.17px;height:25.11px;line-height:25.11px;font-size:18.8px;transform:scaleX(0.755)">30</div>
<div class="d" style="left:396.4px;top:858.28px;height:25.11px;line-height:25.11px;font-size:18.8px;transform:scaleX(0.755)">20</div>
<div class="d" style="left:461.29999999999995px;top:858.28px;height:25.11px;line-height:25.11px;font-size:18.8px;transform:scaleX(0.755)">10</div>
<div class="d" style="left:524.3px;top:858.28px;height:25.11px;line-height:25.11px;font-size:18.8px;transform:scaleX(0.755)">50</div>
<div class="d" style="left:396.4px;top:883.39px;height:25.11px;line-height:25.11px;font-size:18.8px;transform:scaleX(0.755)">21</div>
<div class="d" style="left:461.29999999999995px;top:883.39px;height:25.11px;line-height:25.11px;font-size:18.8px;transform:scaleX(0.755)">30 <span class="atp">(АТП)</span></div>
<div class="d" style="left:524.3px;top:883.39px;height:25.11px;line-height:25.11px;font-size:18.8px;transform:scaleX(0.755)">45</div>
<div class="d" style="left:396.4px;top:908.49px;height:25.11px;line-height:25.11px;font-size:18.8px;transform:scaleX(0.755)">22</div>
<div class="d" style="left:461.29999999999995px;top:908.49px;height:25.11px;line-height:25.11px;font-size:18.8px;transform:scaleX(0.755)">50 <span class="atp">(АТП)</span></div>
<div style="position:absolute;left:0;top:962px;width:672px;height:64px;background:#cdbfd9"></div>
<svg style="position:absolute;left:0;top:970px;transform:translateX(83px)" width="102" height="48" viewBox="0 0 102 48">
<path d="M2.5 1.8 H95 Q98.2 1.8 98.8 5.5 L100.8 30 V41 H1 V4 Q1 1.8 2.5 1.8Z" fill="#f4b43e"/>
<rect x="1" y="1.8" width="97" height="2.2" fill="#f7c04e"/>
<rect x="0.5" y="33" width="100.5" height="8.2" fill="#4b4a52"/>
<path d="M3.8 6.2 H95.5 L98.3 21.5 H3.8Z" fill="#2f3038"/>
<path d="M5.2 7.6 H25.8 V20 H5.2Z M27.6 7.6 H48.8 V20 H27.6Z M50.6 7.6 H70.8 V20 H50.6Z M72.6 7.6 H79.6 V20 H72.6Z M81.4 7.6 H94.3 L96.6 20 H81.4Z" fill="#97b3d6"/>
<path d="M5.2 14 H25.8 V20 H5.2Z M27.6 14 H48.8 V20 H27.6Z M50.6 14 H70.8 V20 H50.6Z M72.6 14 H79.6 V20 H72.6Z M81.4 14 H95.5 L96.6 20 H81.4Z" fill="#7e98bc" opacity="0.7"/>
<rect x="28.5" y="11" width="19" height="1.6" fill="#2f3038"/>
<g fill="#6f86aa" opacity="0.55"><circle cx="14" cy="17" r="2"/><circle cx="38" cy="17" r="1.8"/><circle cx="60" cy="16.5" r="2"/><circle cx="66" cy="17" r="1.6"/><circle cx="88" cy="17" r="2"/></g>
<rect x="97.5" y="5" width="2.2" height="6" rx="1" fill="#2f3038"/>
<rect x="0.5" y="24" width="1.6" height="4" fill="#d9534a"/>
<rect x="99.5" y="28" width="1.5" height="3.5" fill="#f2f2f2"/>
<circle cx="24" cy="38.5" r="8.6" fill="#4b4a52"/>
<circle cx="80.7" cy="38.5" r="8.6" fill="#4b4a52"/>
<circle cx="24" cy="38.5" r="5.6" fill="#f2c94a"/>
<circle cx="80.7" cy="38.5" r="5.6" fill="#f2c94a"/>
<circle cx="24" cy="38.5" r="2.6" fill="#f8de7a"/>
<circle cx="80.7" cy="38.5" r="2.6" fill="#f8de7a"/>
</svg>
<svg style="position:absolute;left:0;top:970px;transform:translateX(486px) scaleX(-1);transform-origin:51px 0" width="102" height="48" viewBox="0 0 102 48">
<path d="M2.5 1.8 H95 Q98.2 1.8 98.8 5.5 L100.8 30 V41 H1 V4 Q1 1.8 2.5 1.8Z" fill="#f4b43e"/>
<rect x="1" y="1.8" width="97" height="2.2" fill="#f7c04e"/>
<rect x="0.5" y="33" width="100.5" height="8.2" fill="#4b4a52"/>
<path d="M3.8 6.2 H95.5 L98.3 21.5 H3.8Z" fill="#2f3038"/>
<path d="M5.2 7.6 H25.8 V20 H5.2Z M27.6 7.6 H48.8 V20 H27.6Z M50.6 7.6 H70.8 V20 H50.6Z M72.6 7.6 H79.6 V20 H72.6Z M81.4 7.6 H94.3 L96.6 20 H81.4Z" fill="#97b3d6"/>
<path d="M5.2 14 H25.8 V20 H5.2Z M27.6 14 H48.8 V20 H27.6Z M50.6 14 H70.8 V20 H50.6Z M72.6 14 H79.6 V20 H72.6Z M81.4 14 H95.5 L96.6 20 H81.4Z" fill="#7e98bc" opacity="0.7"/>
<rect x="28.5" y="11" width="19" height="1.6" fill="#2f3038"/>
<g fill="#6f86aa" opacity="0.55"><circle cx="14" cy="17" r="2"/><circle cx="38" cy="17" r="1.8"/><circle cx="60" cy="16.5" r="2"/><circle cx="66" cy="17" r="1.6"/><circle cx="88" cy="17" r="2"/></g>
<rect x="97.5" y="5" width="2.2" height="6" rx="1" fill="#2f3038"/>
<rect x="0.5" y="24" width="1.6" height="4" fill="#d9534a"/>
<rect x="99.5" y="28" width="1.5" height="3.5" fill="#f2f2f2"/>
<circle cx="24" cy="38.5" r="8.6" fill="#4b4a52"/>
<circle cx="80.7" cy="38.5" r="8.6" fill="#4b4a52"/>
<circle cx="24" cy="38.5" r="5.6" fill="#f2c94a"/>
<circle cx="80.7" cy="38.5" r="5.6" fill="#f2c94a"/>
<circle cx="24" cy="38.5" r="2.6" fill="#f8de7a"/>
<circle cx="80.7" cy="38.5" r="2.6" fill="#f8de7a"/>
</svg>
<div class="ft" style="left:200.5px;top:971.6px;transform:scaleX(0.625)">ІНФОРМАЦІЮ ПРО ГРАФІКИ РУХУ ТРАНСПОРТУ НАДАЛИ У ВІДПОВІДЬ НА ІНФОРМАЦІЙНИЙ</div>
<div class="ft" style="left:254.5px;top:983.2px;transform:scaleX(0.616)">ЗАПИТ TVOEMISTO.TV В УПРАВЛІННІ ТРАНСПОРТУ ЛМР</div>
<div style="position:absolute;left:301.5px;top:998px;width:71px;height:1px;background:#aa9dba"></div>
<div style="position:absolute;left:303px;top:1000px;font-family:'Liberation Serif',serif;font-weight:bold;font-size:8px;line-height:8px;letter-spacing:0.4px;white-space:nowrap;transform:scaleX(1.12);transform-origin:0 0"><span style="color:#4d4860">ТВ</span><span style="color:#d8cce6;letter-spacing:-0.5px">о</span><span style="color:#5a5570">Є</span><span style="color:#e6dcef">MISTO</span><span style="color:#4d4860">.tv</span></div>
<div style="position:absolute;left:301px;top:1009.5px;width:70px;height:4.2px;border-radius:2.2px;background:linear-gradient(90deg,#7a4aa0,#433d7e 35%,#3d4a86 65%,#4a78ac)"></div>
<div style="position:absolute;left:313px;top:1011px;width:47px;height:1.3px;background:repeating-linear-gradient(90deg,#c8d0ea 0 2px,transparent 2px 3px);opacity:0.55"></div>
</body></html>
